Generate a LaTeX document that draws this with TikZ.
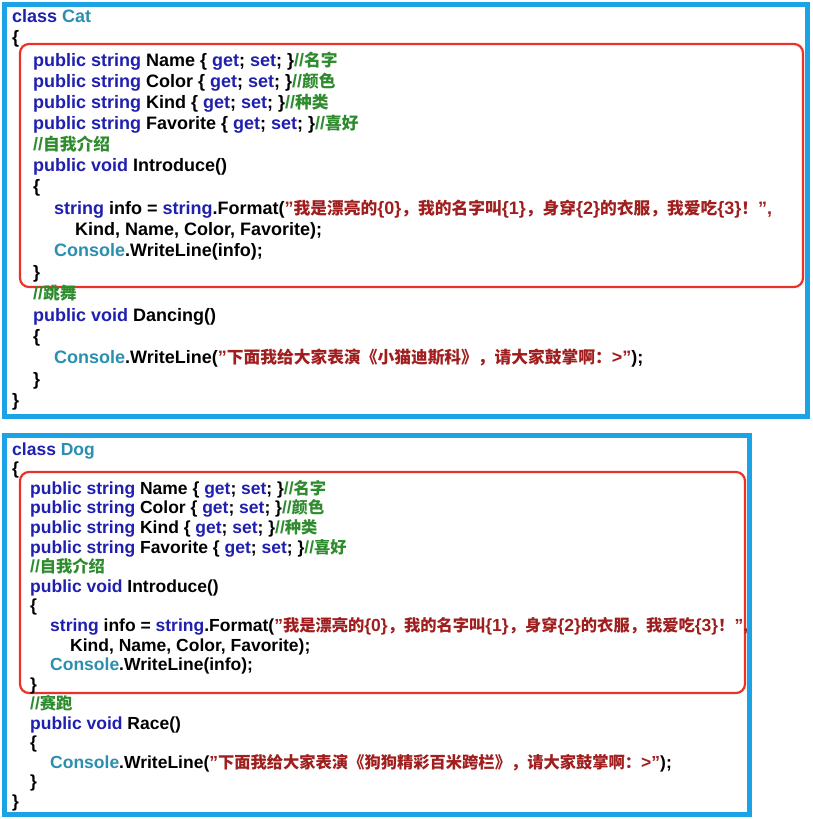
\documentclass[tikz,border=0pt]{standalone}
\usepackage{fontspec}
\setmainfont{Liberation Sans}
\newfontfamily\cjk{Noto Sans CJK SC Bold}[Scale=0.93]
\definecolor{kw}{HTML}{1F1FB0}
\definecolor{ty}{HTML}{2B8FAF}
\definecolor{cm}{HTML}{2E8B2E}
\definecolor{st}{HTML}{A01E1E}
\definecolor{frame}{HTML}{1CA3E6}
\definecolor{hl}{HTML}{E8322A}
\newcommand{\kw}[1]{\textcolor{kw}{#1}}
\newcommand{\ty}[1]{\textcolor{ty}{#1}}
\newcommand{\cm}[1]{\textcolor{cm}{#1}}
\newcommand{\st}[1]{\textcolor{st}{#1}}
\newcommand{\zh}[1]{{\cjk #1}}
\newcommand{\q}{\char"22\relax}
\begin{document}
\begin{tikzpicture}[x=1pt,y=-1pt,
  code/.style={anchor=base west,inner sep=0pt,font=\fontsize{18}{20}\selectfont\bfseries},
  dcode/.style={anchor=base west,inner sep=0pt,font=\fontsize{17.5}{20}\selectfont\bfseries},
  outerbox/.style={draw=frame,line width=5pt,fill=white},
  hlbox/.style={draw=hl,line width=2.2pt,rounded corners=9pt}]
\useasboundingbox (0,0) rectangle (812,819);
\fill[white] (0,0) rectangle (812,819);
% Cat
\draw[outerbox] (4,4) rectangle (807,416);
\draw[hlbox] (20,44) rectangle (803,287);
\node[code] (c0) at (12,23) {\kw{class} \ty{Cat}};
\node[code] (c1) at (12,43) {\{};
\node[code] (c2) at (33,66) {\kw{public string} Name \{ \kw{get}; \kw{set}; \}\cm{//\zh{名字}}};
\node[code] (c3) at (33,87) {\kw{public string} Color \{ \kw{get}; \kw{set}; \}\cm{//\zh{颜色}}};
\node[code] (c4) at (33,108) {\kw{public string} Kind \{ \kw{get}; \kw{set}; \}\cm{//\zh{种类}}};
\node[code] (c5) at (33,129) {\kw{public string} Favorite \{ \kw{get}; \kw{set}; \}\cm{//\zh{喜好}}};
\node[code] (c6) at (33,150) {\cm{//\zh{自我介绍}}};
\node[code] (c7) at (33,171) {\kw{public void} Introduce()};
\node[code] (c8) at (33,192) {\{};
\node[code] (c9) at (54,214) {\kw{string} info = \kw{string}.Format(\st{\q\zh{我是漂亮的}\{0\}\zh{，我的名字叫}\{1\}\zh{，身穿}\{2\}\zh{的衣服，我爱吃}\{3\}\zh{！}\q,}};
\node[code] (c10) at (75,235) {Kind, Name, Color, Favorite);};
\node[code] (c11) at (54,256) {\ty{Console}.WriteLine(info);};
\node[code] (c12) at (33,278) {\}};
\node[code] (c13) at (33,299) {\cm{//\zh{跳舞}}};
\node[code] (c14) at (33,321) {\kw{public void} Dancing()};
\node[code] (c15) at (33,342) {\{};
\node[code] (c16) at (54,363) {\ty{Console}.WriteLine(\st{\q\zh{下面我给大家表演《小猫迪斯科》，请大家鼓掌啊：}>\q});};
\node[code] (c17) at (33,385) {\}};
\node[code] (c18) at (12,406) {\}};
% Dog
\draw[outerbox] (4,435) rectangle (749,814);
\draw[hlbox] (20,472) rectangle (745,693);
\node[dcode] (d0) at (12,455) {\kw{class} \ty{Dog}};
\node[dcode] (d1) at (12,474) {\{};
\node[dcode] (d2) at (30,494) {\kw{public string} Name \{ \kw{get}; \kw{set}; \}\cm{//\zh{名字}}};
\node[dcode] (d3) at (30,513) {\kw{public string} Color \{ \kw{get}; \kw{set}; \}\cm{//\zh{颜色}}};
\node[dcode] (d4) at (30,533) {\kw{public string} Kind \{ \kw{get}; \kw{set}; \}\cm{//\zh{种类}}};
\node[dcode] (d5) at (30,553) {\kw{public string} Favorite \{ \kw{get}; \kw{set}; \}\cm{//\zh{喜好}}};
\node[dcode] (d6) at (30,572) {\cm{//\zh{自我介绍}}};
\node[dcode] (d7) at (30,592) {\kw{public void} Introduce()};
\node[dcode] (d8) at (30,611) {\{};
\node[dcode] (d9) at (50,631) {\kw{string} info = \kw{string}.Format(\st{\q\zh{我是漂亮的}\{0\}\zh{，我的名字叫}\{1\}\zh{，身穿}\{2\}\zh{的衣服，我爱吃}\{3\}\zh{！}\q,}};
\node[dcode] (d10) at (70,651) {Kind, Name, Color, Favorite);};
\node[dcode] (d11) at (50,670) {\ty{Console}.WriteLine(info);};
\node[dcode] (d12) at (30,690) {\}};
\node[dcode] (d13) at (30,709) {\cm{//\zh{赛跑}}};
\node[dcode] (d14) at (30,729) {\kw{public void} Race()};
\node[dcode] (d15) at (30,748) {\{};
\node[dcode] (d16) at (50,768) {\ty{Console}.WriteLine(\st{\q\zh{下面我给大家表演《狗狗精彩百米跨栏》，请大家鼓掌啊：}>\q});};
\node[dcode] (d17) at (30,787) {\}};
\node[dcode] (d18) at (12,807) {\}};
\end{tikzpicture}
\end{document}
